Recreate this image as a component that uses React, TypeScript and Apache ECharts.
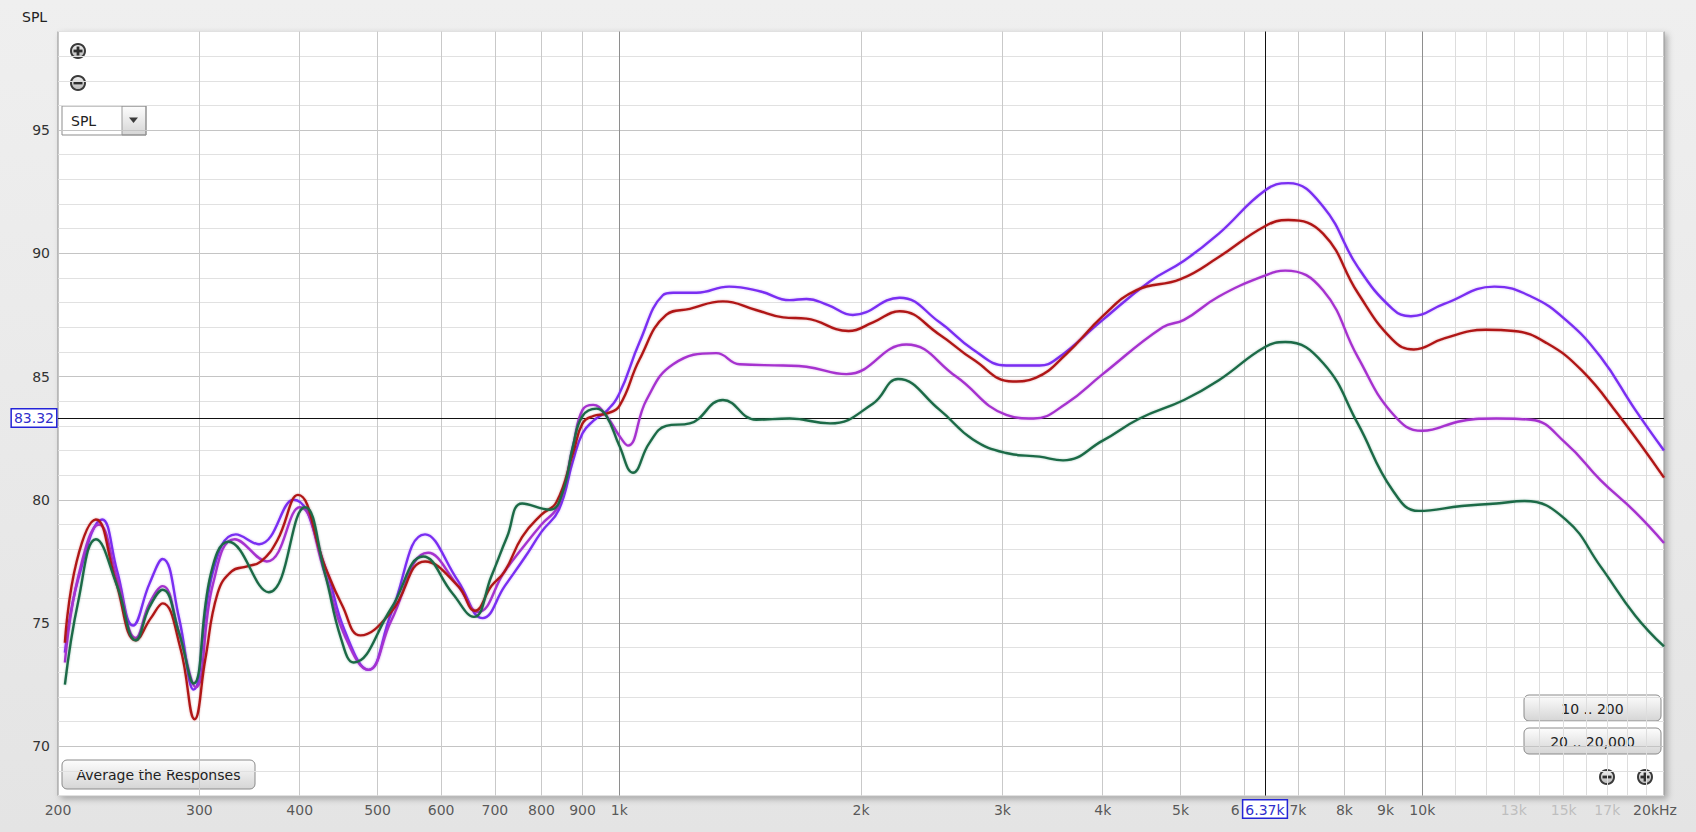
import React, { useEffect, useRef } from "react";
import * as echarts from "echarts";

const FONT = "DejaVu Sans";

const Y_MIN = 68;
const Y_MAX = 99;
const F_MIN = 200;
const F_MAX = 20000;

const yTickLabels = [70, 75, 80, 85, 90, 95];

const xTickFreqs = [200, 300, 400, 500, 600, 700, 800, 900, 1000, 2000, 3000, 4000, 5000, 6000, 7000, 8000, 9000, 10000, 13000, 15000, 17000, 20000];
// the "k" of the 6k label is hidden behind the cursor read-out box in the original
const xTickTexts = ["200", "300", "400", "500", "600", "700", "800", "900", "1k", "2k", "3k", "4k", "5k", "6", "7k", "8k", "9k", "10k", "13k", "15k", "17k", "20kHz"];
const xTickMuted = ["13k", "15k", "17k"];

const gridFreqs = [300, 400, 500, 600, 700, 800, 900, 2000, 3000, 4000, 5000, 6000, 7000, 8000, 9000];
const fineGridFreqs = [11000, 12000, 13000, 14000, 15000, 16000, 17000, 18000, 19000];
const decadeFreqs = [1000, 10000];

const cursorFreq = 6370;
const cursorFreqLabel = "6.37k";
const cursorLevel = 83.32;
const cursorLevelLabel = "83.32";

// Response 1 (blue-violet)
const violetF = [204, 212, 227, 237, 248, 260, 270, 283, 295, 312, 333, 356, 393, 430, 455, 487, 520, 573, 630, 676, 720, 764, 800, 841, 876, 900, 928, 964, 1000, 1060, 1133, 1167, 1248, 1370, 1500, 1630, 1710, 1820, 1954, 2234, 2506, 2757, 3033, 3337, 3500, 4000, 4573, 5050, 5580, 6370, 6808, 7524, 8310, 9180, 9680, 10650, 12300, 13660, 15090, 16670, 18420, 20000];
const violetV = [73.8, 76.8, 79.2, 77.1, 74.9, 76.6, 77.6, 75.2, 72.3, 77.1, 78.6, 78.2, 80.0, 77.3, 74.7, 73.1, 75.4, 78.6, 76.7, 75.2, 76.5, 77.7, 78.7, 79.6, 81.6, 82.7, 83.2, 83.6, 84.3, 86.4, 88.3, 88.4, 88.4, 88.65, 88.45, 88.1, 88.15, 87.9, 87.5, 88.2, 87.2, 86.1, 85.45, 85.45, 85.7, 87.3, 88.85, 89.7, 90.8, 92.55, 92.85, 91.9, 89.45, 87.75, 87.45, 87.95, 88.65, 88.25, 87.3, 85.8, 83.65, 82.0];

// Response 2 (dark red)
const redF = [204, 211, 223, 236, 250, 261, 270, 284, 296, 305, 316, 329, 344, 358, 375, 398, 430, 452, 476, 520, 573, 630, 661, 693, 720, 757, 800, 835, 876, 900, 928, 964, 1000, 1060, 1144, 1224, 1346, 1480, 1600, 1710, 1930, 2070, 2234, 2506, 2757, 3090, 3300, 3600, 4000, 4400, 5000, 5580, 6370, 6808, 7524, 8310, 9180, 9760, 10650, 12000, 13000, 14300, 15800, 17500, 20000];
const redV = [74.2, 77.5, 79.2, 76.7, 74.3, 75.2, 75.8, 74.0, 71.1, 73.5, 76.2, 77.1, 77.3, 77.5, 78.35, 80.2, 77.3, 75.7, 74.5, 75.45, 77.5, 76.5, 75.5, 76.5, 77.1, 78.5, 79.4, 79.9, 81.9, 83.1, 83.4, 83.5, 83.8, 85.7, 87.5, 87.75, 88.05, 87.7, 87.4, 87.35, 86.85, 87.2, 87.65, 86.7, 85.7, 84.8, 84.95, 85.9, 87.45, 88.5, 88.95, 89.85, 91.1, 91.35, 90.8, 88.4, 86.5, 86.1, 86.55, 86.9, 86.85, 86.35, 85.25, 83.5, 80.9];

// Response 3 (magenta-purple)
const magentaF = [204, 212, 225, 237, 250, 260, 270, 283, 297, 312, 332, 364, 400, 430, 455, 487, 520, 578, 630, 667, 720, 764, 800, 841, 876, 900, 928, 964, 1000, 1025, 1081, 1167, 1320, 1412, 1600, 1710, 1918, 2277, 2627, 3033, 3280, 3600, 4000, 4750, 5050, 5580, 6370, 6750, 7524, 8310, 9180, 10000, 11200, 12370, 13660, 15090, 16670, 18420, 20000];
const magentaV = [73.4, 76.9, 79.0, 76.8, 74.4, 75.8, 76.5, 74.6, 72.4, 76.6, 78.4, 77.5, 79.7, 77.0, 74.5, 73.1, 75.1, 77.85, 76.5, 75.45, 77.1, 78.2, 79.0, 79.8, 82.2, 83.65, 83.85, 83.4, 82.6, 82.2, 84.05, 85.5, 85.95, 85.5, 85.45, 85.4, 85.1, 86.3, 85.0, 83.45, 83.3, 83.9, 85.1, 87.0, 87.3, 88.25, 89.1, 89.3, 88.5, 85.8, 83.5, 82.8, 83.2, 83.3, 83.25, 82.3, 80.8, 79.5, 78.25];

// Response 4 (dark green)
const greenF = [204, 212, 223, 237, 250, 260, 270, 283, 295, 310, 326, 366, 406, 430, 450, 467, 520, 570, 620, 659, 693, 725, 757, 820, 850, 876, 900, 937, 964, 1000, 1040, 1090, 1144, 1224, 1346, 1481, 1630, 1830, 2069, 2224, 2506, 2757, 3033, 3337, 3570, 4000, 4446, 5050, 5580, 6370, 6750, 7524, 8310, 9180, 9900, 11200, 12370, 13400, 15090, 16670, 18420, 20000];
const greenV = [72.5, 75.9, 78.4, 76.5, 74.3, 75.65, 76.35, 74.6, 72.55, 77.0, 78.3, 76.25, 79.7, 77.0, 74.4, 73.4, 75.6, 77.7, 76.2, 75.25, 76.9, 78.5, 79.85, 79.6, 80.3, 82.2, 83.4, 83.7, 83.4, 82.2, 81.1, 82.3, 83.0, 83.1, 84.05, 83.25, 83.3, 83.1, 83.9, 84.9, 83.65, 82.45, 81.9, 81.75, 81.6, 82.4, 83.3, 84.05, 84.85, 86.2, 86.4, 85.55, 83.1, 80.4, 79.55, 79.75, 79.85, 79.95, 79.2, 77.3, 75.3, 74.05];

const responses = [
  { name: "Response 1", f: violetF, v: violetV, color: "#7a2ef2" },
  { name: "Response 3", f: magentaF, v: magentaV, color: "#a632cf" },
  { name: "Response 2", f: redF, v: redV, color: "#b01818" },
  { name: "Response 4", f: greenF, v: greenV, color: "#1c6b47" },
];

const btnGrad = () =>
  new echarts.graphic.LinearGradient(0, 0, 0, 1, [
    { offset: 0, color: "#fdfdfd" },
    { offset: 1, color: "#d5d5d5" },
  ]);

function zoomIcon(cx: number, cy: number, plus: boolean) {
  const children: any[] = [
    {
      type: "circle",
      shape: { cx: 0, cy: 0, r: 7 },
      style: {
        fill: new echarts.graphic.LinearGradient(0, 0, 0, 1, [
          { offset: 0, color: "#f2f2f2" },
          { offset: 1, color: "#b8b8b8" },
        ]),
        stroke: "#3a3a3a",
        lineWidth: 2,
      },
    },
    { type: "rect", shape: { x: -4.5, y: -1.4, width: 9, height: 2.8 }, style: { fill: "#2e2e2e" } },
  ];
  if (plus) {
    children.push({ type: "rect", shape: { x: -1.4, y: -4.5, width: 2.8, height: 9 }, style: { fill: "#2e2e2e" } });
  }
  return { type: "group", x: cx, y: cy, z: 100, children };
}

function button(x: number, y: number, w: number, h: number, text: string) {
  return {
    type: "group",
    z: 100,
    children: [
      {
        type: "rect",
        shape: { x, y, width: w, height: h, r: 5 },
        style: { fill: btnGrad(), stroke: "#8a8a8a", lineWidth: 1 },
      },
      {
        type: "text",
        x: x + w / 2,
        y: y + h / 2 + 0.5,
        style: { text, fontSize: 14, fontFamily: FONT, fill: "#222", align: "center", verticalAlign: "middle" },
      },
    ],
  };
}

function buildOption() {
  const labelBox = {
    show: true,
    position: "start",
    color: "#2f2fcc",
    fontSize: 14,
    fontFamily: FONT,
    backgroundColor: "#ffffff",
    borderColor: "#2424d8",
    borderWidth: 1.5,
    padding: [2, 2, 1, 2],
  };

  const series: any[] = [
    {
      name: "grid",
      type: "line",
      data: [],
      z: 1,
      silent: true,
      markLine: {
        symbol: "none",
        silent: true,
        animation: false,
        label: { show: false },
        emphasis: { disabled: true },
        data: [
          ...gridFreqs.map((f) => ({ xAxis: f, lineStyle: { color: "#c9c9c9", width: 1, type: "solid" } })),
          ...fineGridFreqs.map((f) => ({ xAxis: f, lineStyle: { color: "#dddddd", width: 1, type: "solid" } })),
          ...decadeFreqs.map((f) => ({ xAxis: f, lineStyle: { color: "#8e8e8e", width: 1, type: "solid" } })),
        ],
      },
    },
    {
      name: "cursor",
      type: "line",
      data: [],
      z: 2,
      silent: true,
      markLine: {
        symbol: "none",
        silent: true,
        animation: false,
        label: { show: false },
        emphasis: { disabled: true },
        lineStyle: { color: "#111", width: 1, type: "solid" },
        data: [{ xAxis: cursorFreq }, { yAxis: cursorLevel }],
      },
    },
    ...responses.map((r) => ({
      name: r.name,
      type: "line",
      z: 5,
      silent: true,
      showSymbol: false,
      smooth: 0.45,
      data: r.f.map((f, i) => [f, r.v[i]]),
      lineStyle: { color: r.color, width: 2.4, shadowColor: r.color + "55", shadowBlur: 2 },
      itemStyle: { color: r.color },
    })),
    {
      name: "xTicks",
      type: "scatter",
      z: 6,
      silent: true,
      symbolSize: 1,
      itemStyle: { color: "rgba(0,0,0,0)" },
      label: { show: true, position: "bottom", distance: 7, fontSize: 14, fontFamily: FONT, color: "#333" },
      data: xTickFreqs.map((f, i) => ({
        value: [f, Y_MIN],
        label: {
          formatter: xTickTexts[i],
          color: xTickMuted.includes(xTickTexts[i]) ? "#b4b4b4" : "#333",
          offset: xTickTexts[i] === "20kHz" ? [-9, 0] : xTickTexts[i] === "6" ? [-9, 0] : [0, 0],
        },
      })),
    },
    {
      name: "cursorLabels",
      type: "line",
      data: [],
      z: 20,
      silent: true,
      markLine: {
        symbol: "none",
        silent: true,
        animation: false,
        lineStyle: { color: "rgba(0,0,0,0)", width: 1 },
        emphasis: { disabled: true },
        data: [
          { xAxis: cursorFreq, label: { ...labelBox, formatter: cursorFreqLabel, distance: 5 } },
          { yAxis: cursorLevel, label: { ...labelBox, formatter: cursorLevelLabel, distance: 2 } },
        ],
      },
    },
  ];

  const graphicEls: any[] = [
    {
      type: "text",
      x: 22,
      y: 17,
      z: 100,
      style: { text: "SPL", fontSize: 14, fontFamily: FONT, fill: "#222", verticalAlign: "middle" },
    },
    zoomIcon(78, 51, true),
    zoomIcon(78, 83, false),
    {
      type: "group",
      z: 100,
      children: [
        { type: "rect", shape: { x: 62, y: 106, width: 60, height: 29 }, style: { fill: "#fff" } },
        { type: "rect", shape: { x: 122, y: 106, width: 24, height: 29 }, style: { fill: btnGrad(), stroke: "#9a9a9a" } },
        { type: "rect", shape: { x: 62, y: 106, width: 84, height: 29 }, style: { fill: "none", stroke: "#8d8d8d", lineWidth: 1 } },
        {
          type: "text",
          x: 71,
          y: 121,
          style: { text: "SPL", fontSize: 14, fontFamily: FONT, fill: "#222", verticalAlign: "middle" },
        },
        { type: "polygon", shape: { points: [[129, 117.5], [138, 117.5], [133.5, 123]] }, style: { fill: "#3a3a3a" } },
      ],
    },
    button(62, 760, 193, 29, "Average the Responses"),
    button(1524, 695, 137, 26, "10 .. 200"),
    button(1524, 728, 137, 26, "20 .. 20,000"),
    zoomIcon(1607, 777, false),
    zoomIcon(1645, 777, true),
  ];

  return {
    animation: false,
    backgroundColor: "transparent",
    grid: {
      left: 58,
      right: 32,
      top: 31.5,
      bottom: 36.4,
      show: true,
      backgroundColor: "#ffffff",
      borderColor: "#8c8c8c",
      borderWidth: 1,
      shadowColor: "rgba(0,0,0,0.28)",
      shadowBlur: 6,
      shadowOffsetX: 3,
      shadowOffsetY: 3,
    },
    xAxis: {
      type: "log",
      logBase: 10,
      min: F_MIN,
      max: F_MAX,
      axisLabel: { show: false },
      axisTick: { show: false },
      axisLine: { show: false },
      splitLine: { show: false },
      minorSplitLine: { show: false },
    },
    yAxis: {
      type: "value",
      min: Y_MIN,
      max: Y_MAX,
      interval: 1,
      axisLine: { show: false },
      axisTick: { show: false },
      axisLabel: {
        margin: 8,
        fontSize: 14,
        fontFamily: FONT,
        color: "#333",
        formatter: (v: number) => (yTickLabels.includes(v) ? String(v) : ""),
      },
      splitLine: {
        show: true,
        lineStyle: { color: ["#e1e1e1", "#e1e1e1", "#c4c4c4", "#e1e1e1", "#e1e1e1"], width: 1 },
      },
    },
    tooltip: { show: false },
    series,
    graphic: { elements: graphicEls },
  };
}

export default function App() {
  const ref = useRef<HTMLDivElement>(null);
  useEffect(() => {
    document.body.style.margin = "0";
    document.body.style.overflow = "hidden";
    if (!ref.current) return;
    const chart = echarts.init(ref.current, null, { renderer: "svg" });
    chart.setOption(buildOption() as any);
    return () => chart.dispose();
  }, []);
  return (
    <div
      ref={ref}
      style={{
        width: 1696,
        height: 832,
        background: "linear-gradient(180deg, #efefef 0%, #e4e4e4 100%)",
      }}
    />
  );
}
